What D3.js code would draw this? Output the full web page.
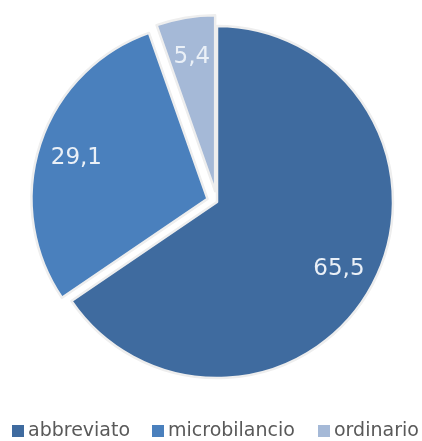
<!DOCTYPE html>
<html>
<head>
<meta charset="utf-8">
<script src="https://cdn.jsdelivr.net/npm/d3@7"></script>
<style>
  body { margin: 0; background: #fff; }
  svg { display: block; filter: blur(0.5px); }
</style>
</head>
<body>
<div id="chart"></div>
<script>
// data
var categories = ["abbreviato", "microbilancio", "ordinario"];
var values = [65.5, 29.1, 5.4];
var labels = ["65,5", "29,1", "5,4"];
var colors = ["#3f6b9f", "#4a80bd", "#a5b9d7"];
var explode = [0, 10, 11];

var w = 422, h = 441;
var cx = 217, cy = 202, radius = 176;

var svg = d3.select("#chart")
    .append("svg")
    .attr("width", w)
    .attr("height", h);

var color = d3.scaleOrdinal().domain(categories).range(colors);

var pie = d3.pie()
    .value(function (d) { return d.value; })
    .sort(null);

var data = categories.map(function (c, i) {
    return { name: c, value: values[i], label: labels[i], off: explode[i] };
});

var arcs = pie(data);

var arc = d3.arc().innerRadius(0).outerRadius(radius);
var labelArc = d3.arc().innerRadius(138).outerRadius(138);

var g = svg.append("g")
    .attr("transform", "translate(" + cx + "," + cy + ")");

var slice = g.selectAll(".slice")
    .data(arcs)
    .enter()
    .append("g")
    .attr("class", "slice")
    .attr("transform", function (d) {
        var a = (d.startAngle + d.endAngle) / 2;
        return "translate(" + (Math.sin(a) * d.data.off) + "," + (-Math.cos(a) * d.data.off) + ")";
    });

slice.append("path")
    .attr("d", arc)
    .style("fill", function (d) { return color(d.data.name); })
    .style("stroke", "#eeeeee")
    .style("stroke-width", 2.5)
    .style("stroke-linejoin", "round");

slice.append("text")
    .attr("transform", function (d) { return "translate(" + labelArc.centroid(d) + ")"; })
    .attr("text-anchor", "middle")
    .attr("dy", "0.36em")
    .attr("font-family", "DejaVu Sans")
    .attr("font-size", 23)
    .style("fill", "#eaf0f7")
    .text(function (d) { return d.data.label; });

// legend
var legendX = [12, 152, 318];
var legend = svg.selectAll(".legend")
    .data(categories)
    .enter()
    .append("g")
    .attr("class", "legend")
    .attr("transform", function (d, i) { return "translate(" + legendX[i] + ",425)"; });

legend.append("rect")
    .attr("width", 12)
    .attr("height", 12)
    .style("fill", function (d) { return color(d); });

legend.append("text")
    .attr("x", 16)
    .attr("y", 11)
    .attr("font-family", "DejaVu Sans")
    .attr("font-size", 19)
    .style("fill", "#595959")
    .text(function (d) { return d; });
</script>
</body>
</html>
